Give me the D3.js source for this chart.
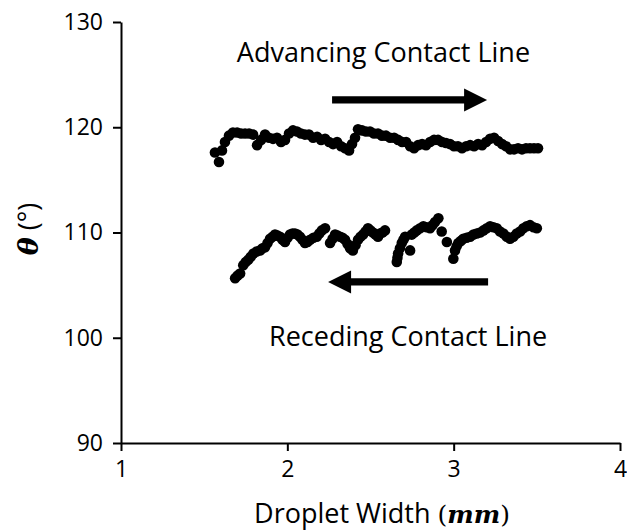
<!DOCTYPE html>
<html>
<head>
<meta charset="utf-8">
<script src="https://cdn.jsdelivr.net/npm/d3@7"></script>
<style>
  body { margin: 0; background: #fff; }
  text { font-family: "Open Sans", sans-serif; fill: #000; }
</style>
</head>
<body>
<script>
'use strict';

// advancing contact line (droplet width mm, contact angle deg)
const advX = [1.565, 1.589, 1.607, 1.625, 1.649, 1.673, 1.698, 1.722, 1.746, 1.770, 1.794, 1.818, 1.842, 1.866,
  1.890, 1.914, 1.938, 1.962, 1.986, 2.010, 2.034, 2.058, 2.082, 2.106, 2.130, 2.155, 2.179, 2.203, 2.227, 2.251,
  2.275, 2.299, 2.323, 2.347, 2.371, 2.389, 2.407, 2.425, 2.449, 2.473, 2.497, 2.521, 2.545, 2.569, 2.593, 2.618,
  2.642, 2.666, 2.690, 2.714, 2.738, 2.762, 2.786, 2.810, 2.834, 2.858, 2.882, 2.906, 2.930, 2.954, 2.978, 3.002,
  3.026, 3.050, 3.075, 3.099, 3.123, 3.147, 3.171, 3.195, 3.219, 3.243, 3.267, 3.291, 3.315, 3.339, 3.363, 3.387,
  3.411, 3.435, 3.459, 3.483, 3.507];
const advY = [117.6, 116.7, 117.8, 118.6, 119.2, 119.5, 119.5, 119.4, 119.4, 119.4, 119.3, 118.3, 118.8, 119.3,
  119.0, 118.9, 119.0, 118.6, 118.8, 119.4, 119.7, 119.6, 119.4, 119.3, 119.3, 119.0, 119.1, 118.8, 118.9, 118.6,
  118.4, 118.6, 118.2, 118.0, 117.8, 118.4, 119.0, 119.8, 119.7, 119.6, 119.6, 119.4, 119.4, 119.2, 119.2, 119.0,
  119.0, 118.8, 118.6, 118.6, 118.2, 118.0, 118.3, 118.4, 118.3, 118.6, 118.8, 118.8, 118.6, 118.5, 118.4, 118.2,
  118.2, 118.0, 118.2, 118.3, 118.2, 118.4, 118.3, 118.6, 118.9, 119.0, 118.7, 118.4, 118.2, 117.9, 117.9, 118.0,
  117.9, 118.0, 118.0, 118.0, 118.0];

// receding contact line
const recX = [1.686, 1.700, 1.716, 1.735, 1.750, 1.765, 1.780, 1.796, 1.816, 1.836, 1.851, 1.866, 1.881, 1.896,
  1.911, 1.926, 1.941, 1.956, 1.971, 1.986, 2.001, 2.016, 2.031, 2.046, 2.061, 2.076, 2.091, 2.106, 2.121, 2.137,
  2.157, 2.177, 2.192, 2.207, 2.227,
  2.257, 2.272, 2.287, 2.302, 2.317, 2.332, 2.347, 2.362, 2.377, 2.394, 2.410, 2.425, 2.440, 2.455, 2.470, 2.485,
  2.500, 2.515, 2.530, 2.545, 2.557, 2.572, 2.587,
  2.658, 2.662, 2.666, 2.677, 2.688, 2.698, 2.708, 2.738, 2.748, 2.763, 2.778, 2.798, 2.818, 2.838, 2.858, 2.873,
  2.888, 2.908, 2.928, 2.959,
  2.998, 3.008, 3.018, 3.028, 3.043, 3.058, 3.078, 3.099, 3.119, 3.139, 3.159, 3.179, 3.199, 3.219, 3.239, 3.259,
  3.279, 3.299, 3.319, 3.339, 3.359, 3.379, 3.399, 3.419, 3.439, 3.459, 3.480, 3.500];
const recY = [105.65, 105.9, 106.1, 106.9, 107.2, 107.4, 107.7, 108.0, 108.2, 108.3, 108.5, 108.6, 109.0, 109.4,
  109.6, 109.8, 109.7, 109.6, 109.3, 109.1, 109.5, 109.8, 109.9, 109.9, 109.8, 109.6, 109.3, 109.0, 109.1, 109.3,
  109.5, 109.6, 109.9, 110.2, 110.4,
  109.0, 109.4, 109.8, 109.7, 109.6, 109.5, 109.3, 108.9, 108.5, 108.3, 108.8, 109.3, 109.6, 109.8, 110.1, 110.4,
  110.2, 110.0, 109.8, 109.6, 109.9, 110.0, 110.2,
  107.2, 107.6, 108.0, 108.5, 109.0, 109.3, 109.6, 108.3, 109.8, 110.0, 110.2, 110.4, 110.6, 110.5, 110.4, 110.7,
  111.0, 111.35, 110.1, 109.1,
  107.5, 108.3, 108.7, 109.0, 109.2, 109.4, 109.5, 109.6, 109.8, 109.9, 110.0, 110.2, 110.4, 110.6, 110.5, 110.4,
  110.1, 109.9, 109.6, 109.4, 109.6, 109.9, 110.1, 110.4, 110.6, 110.7, 110.5, 110.4];

const xTicks = [1, 2, 3, 4];
const yTicks = [90, 100, 110, 120, 130];

const margin = {top: 22, right: 7, bottom: 89, left: 121},
      width = 627 - margin.left - margin.right,
      height = 532 - margin.top - margin.bottom;

const svg = d3.select('body')
  .append('svg')
  .attr('width', 627)
  .attr('height', 532);

const xScale = d3.scaleLinear().domain([1, 4]).range([margin.left, margin.left + width]);
const yScale = d3.scaleLinear().domain([90, 130]).range([margin.top + height, margin.top]);

// axes
svg.append('g')
  .attr('transform', 'translate(0,' + (margin.top + height) + ')')
  .call(d3.axisBottom(xScale).tickValues(xTicks).tickFormat(d3.format('d')).tickSize(8).tickSizeOuter(0).tickPadding(10));

svg.append('g')
  .attr('transform', 'translate(' + margin.left + ',0)')
  .call(d3.axisLeft(yScale).tickValues(yTicks).tickFormat(d3.format('d')).tickSize(8).tickSizeOuter(0).tickPadding(10));

svg.selectAll('.domain, .tick line').attr('stroke', '#000').attr('stroke-width', 2);
svg.selectAll('.tick text').style('font-family', '"Open Sans", sans-serif').style('font-size', '23px').attr('fill', '#000');

// data points
const advData = advX.map((x, i) => ({x: x, y: advY[i]}));
const recData = recX.map((x, i) => ({x: x, y: recY[i]}));

svg.append('g').selectAll('circle')
  .data(advData.concat(recData))
  .enter()
  .append('circle')
    .attr('cx', d => xScale(d.x))
    .attr('cy', d => yScale(d.y))
    .attr('r', 5.3)
    .attr('fill', '#000');

// arrows
function arrow(x0, x1, y) {
  const a = xScale(x0), b = xScale(x1), c = yScale(y);
  const dir = b > a ? 1 : -1;
  const headLen = 23, headHalf = 11.5, shaft = 3.6;
  const hb = b - dir * headLen;
  const pts = [[a, c - shaft], [hb, c - shaft], [hb, c - headHalf], [b, c], [hb, c + headHalf], [hb, c + shaft], [a, c + shaft]];
  svg.append('path')
    .attr('d', 'M' + pts.map(p => p.join(',')).join('L') + 'Z')
    .attr('fill', '#000');
}
arrow(2.269, 3.201, 122.6);
arrow(3.207, 2.245, 105.3);

// annotations
svg.append('text')
  .attr('x', xScale(2.578))
  .attr('y', yScale(126.2))
  .attr('text-anchor', 'middle')
  .style('font-size', '27px')
  .text('Advancing Contact Line');

svg.append('text')
  .attr('x', xScale(2.726))
  .attr('y', yScale(99.2))
  .attr('text-anchor', 'middle')
  .style('font-size', '27px')
  .text('Receding Contact Line');

// axis titles
const mathFont = '"DejaVu Serif", serif';
const xt = svg.append('text')
  .attr('x', 382)
  .attr('y', 523)
  .attr('text-anchor', 'middle')
  .style('font-size', '27px');
xt.append('tspan').text('Droplet Width ');
xt.append('tspan').style('font-family', mathFont).style('font-size', '25px').text('(');
xt.append('tspan').style('font-family', mathFont).style('font-style', 'italic').style('font-weight', 'bold').style('font-size', '25px').text('mm');
xt.append('tspan').style('font-family', mathFont).style('font-size', '25px').text(')');

const yt = svg.append('text')
  .attr('transform', 'translate(38,229)rotate(-90)')
  .attr('text-anchor', 'middle')
  .style('font-size', '27px');
yt.append('tspan').style('font-family', mathFont).style('font-style', 'italic').style('font-weight', 'bold').text('θ');
yt.append('tspan').text(' (°)');
</script>
</body>
</html>
